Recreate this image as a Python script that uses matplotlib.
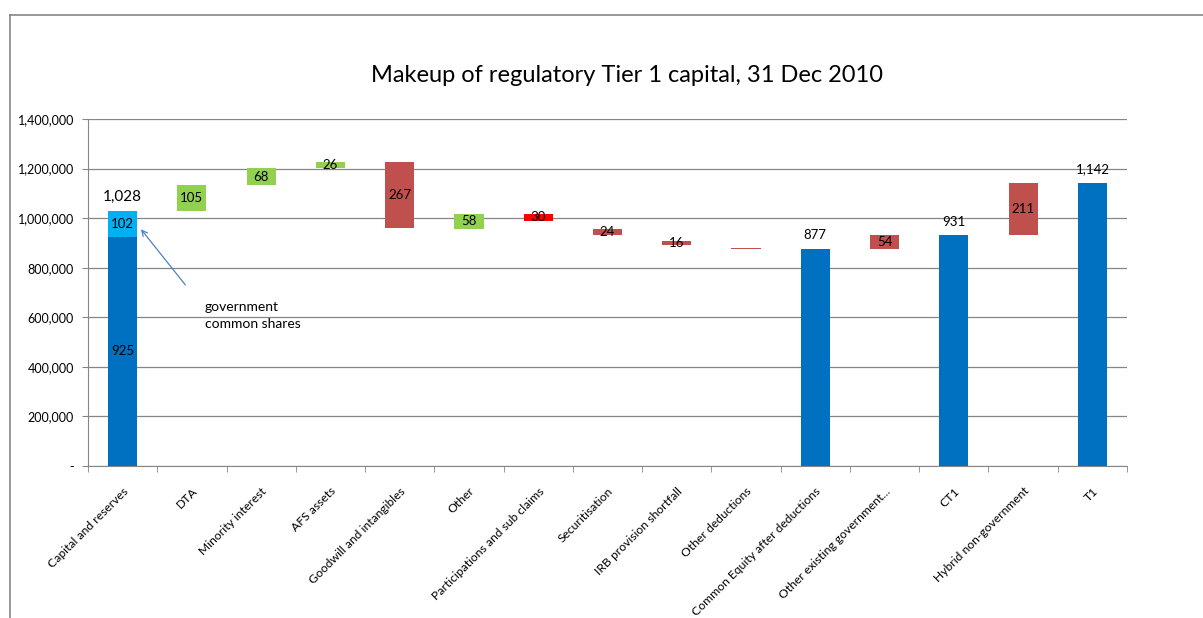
import matplotlib
matplotlib.use("Agg")
import matplotlib.pyplot as plt
from matplotlib.lines import Line2D
from matplotlib.ticker import FuncFormatter

# waterfall built like the excel one: invisible base + visible segment (thousands)
categories = ["Capital and reserves", "DTA", "Minority interest", "AFS assets",
              "Goodwill and intangibles", "Other", "Participations and sub claims",
              "Securitisation", "IRB provision shortfall", "Other deductions",
              "Common Equity after deductions", "Other existing government...",
              "CT1", "Hybrid non-government", "T1"]
base = [0, 1028, 1133, 1201, 960, 958, 988, 932, 892, 877, 0, 877, 0, 931, 0]
value = [925, 105, 68, 26, 267, 58, 30, 24, 16, 1, 877, 54, 931, 211, 1142]
kind = ["total", "up", "up", "up", "down", "up", "down2", "down", "down", "down",
        "total", "down", "total", "down", "total"]
labels = ["925", "105", "68", "26", "267", "58", "30", "24", "16", "",
          "877", "54", "931", "211", "1,142"]
gov_shares = 102
capital_total = "1,028"

colors = {"total": "#0070C0", "up": "#92D050", "down": "#C0504D", "down2": "#FF0000"}

plt.rcParams['font.family'] = ['Lato', 'DejaVu Sans']

fig = plt.figure(figsize=(12.03, 6.18), dpi=100)
ax = fig.add_axes([88/1203, 1 - 466/618, (1127 - 88)/1203, (466 - 119)/618])

x = list(range(len(categories)))
scale = 1000
b = [v*scale for v in base]
h = [v*scale for v in value]
ax.bar(x, h, bottom=b, width=0.42, color=[colors[k] for k in kind], zorder=3)
# government common shares on top of capital and reserves
ax.bar([0], [gov_shares*scale], bottom=[value[0]*scale], width=0.42, color="#00B0F0", zorder=3)

for i in x:
    if not labels[i]:
        continue
    if kind[i] == "total" and i != 0:
        ax.text(i, (b[i] + h[i]) + 30000, labels[i], ha="center", va="bottom", fontsize=9.5, zorder=5)
    else:
        ax.text(i, b[i] + h[i]/2, labels[i], ha="center", va="center", fontsize=9.5, zorder=5)
ax.text(0, (value[0] + gov_shares/2)*scale, str(gov_shares), ha="center", va="center",
        fontsize=9.5, zorder=5)
ax.text(0, (value[0] + gov_shares)*scale + 30000, capital_total, ha="center", va="bottom",
        fontsize=11, zorder=5)

ax.annotate("", xy=(0.24, 964000), xytext=(0.93, 722000),
            arrowprops=dict(arrowstyle="->", color="#4F81BD", lw=0.9), zorder=6)
ax.text(1.19, 665000, "government\ncommon shares", ha="left", va="top", fontsize=10,
        linespacing=1.45, zorder=6)

ax.set_xlim(-0.5, len(categories) - 0.5)
ax.set_ylim(0, 1400000)
ax.set_yticks(range(0, 1400001, 200000))
ax.yaxis.set_major_formatter(FuncFormatter(lambda v, p: "-" if v == 0 else f"{int(v):,}"))
ax.set_xticks(x)
ax.set_xticklabels(categories, rotation=45, ha="right", rotation_mode="anchor", fontsize=8.7)
ax.set_xticks([i - 0.5 for i in range(len(categories) + 1)], minor=True)
ax.tick_params(axis="x", which="major", length=0, pad=14)
ax.tick_params(axis="x", which="minor", length=4, color="#868686")
ax.tick_params(axis="y", length=4, color="#868686", labelsize=9, pad=6)
ax.grid(axis="y", color="#868686", lw=0.9, zorder=0)
for s in ["top", "right"]:
    ax.spines[s].set_visible(False)
for s in ["left", "bottom"]:
    ax.spines[s].set_color("#868686")

fig.text(627/1203, 1 - 75/618, "Makeup of regulatory Tier 1 capital, 31 Dec 2010",
         ha="center", va="center", fontsize=17)

# chart frame (left and top edges visible)
fig.add_artist(Line2D([10/1203, 10/1203], [0, 1 - 15/618], color="#868686", lw=1.2,
                      transform=fig.transFigure))
fig.add_artist(Line2D([10/1203, 1], [1 - 15/618, 1 - 15/618], color="#868686", lw=1.2,
                      transform=fig.transFigure))

fig.savefig("out.png", dpi=100)
